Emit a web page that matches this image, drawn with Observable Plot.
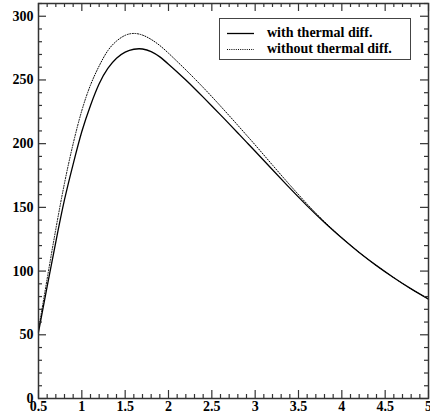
<!DOCTYPE html>
<html>
<head>
<meta charset="utf-8">
<script src="https://cdn.jsdelivr.net/npm/d3@7"></script>
<script src="https://cdn.jsdelivr.net/npm/@observablehq/plot@0.6"></script>
<style>
  html, body { margin: 0; padding: 0; background: white; }
  #wrap { position: relative; width: 430px; height: 419px; overflow: hidden; }
  #wrap svg text { font-family: "Liberation Serif", "Times New Roman", serif !important; font-weight: bold !important; font-size: 14px !important; }
  #legend { position: absolute; left: 219px; top: 18px; width: 192px; height: 42px;
    border: 1px solid #444; background: white; box-sizing: border-box;
    font-family: "Liberation Serif", serif; font-weight: bold; font-size: 14px; }
  #legend .row { position: absolute; left: 0; height: 16px; line-height: 16px; white-space: nowrap; }
  #legend svg { position: absolute; left: 7px; top: 0; }
  #legend span { position: absolute; left: 47px; top: 0; }
</style>
</head>
<body>
<div id="wrap">
  <div id="legend">
    <div class="row" style="top:6px"><svg width="28" height="16"><line x1="0" x2="27" y1="8.5" y2="8.5" stroke="black" stroke-width="1.3"/></svg><span>with thermal diff.</span></div>
    <div class="row" style="top:22px"><svg width="28" height="16"><line x1="0" x2="27" y1="8.5" y2="8.5" stroke="black" stroke-width="1" stroke-dasharray="1,1.2"/></svg><span>without thermal diff.</span></div>
  </div>
</div>
<script>
// with thermal diffusion (solid)
const xWith = [0.5,0.6,0.7,0.8,0.9,1.0,1.1,1.2,1.3,1.4,1.5,1.6,1.7,1.8,1.9,2.0,2.1,2.2,2.3,2.4,2.5,2.6,2.7,2.8,2.9,3.0,3.2,3.4,3.6,3.8,4.0,4.2,4.4,4.6,4.8,5.0];
const yWith = [52,88,123,156,184,209.5,230,247,259,267,271.8,274.1,274.3,272.3,268.1,262.4,256.3,249.9,243.3,236.5,229.6,222.6,215.5,208.4,201.2,194.0,179.5,165.1,151.2,138.1,125.9,114.6,104.3,94.8,86.0,78.0];
// without thermal diffusion (dotted)
const xWithout = [0.5,0.6,0.7,0.8,0.9,1.0,1.1,1.2,1.3,1.4,1.5,1.6,1.7,1.8,1.9,2.0,2.1,2.2,2.3,2.4,2.5,2.6,2.7,2.8,2.9,3.0,3.2,3.4,3.6,3.8,4.0,4.2,4.4,4.6,4.8,5.0];
const yWithout = [54,94,133,169,200,226,246,261,273,280.5,285,286.5,285.2,281.8,277,271,264.5,257.9,251.1,244.1,236.9,229.5,222.0,214.4,206.7,199.0,183.2,167.6,152.6,138.7,126.2,114.7,104.3,94.8,86.0,78.0];

const xMajor = [0.5,1,1.5,2,2.5,3,3.5,4,4.5,5];
const yMajor = [0,50,100,150,200,250,300];

const xMinor = d3.range(0.5, 5.0001, 0.1).map(v => +v.toFixed(2)).filter(v => !xMajor.includes(v));
const yMinor = d3.range(0, 310.001, 10).filter(v => !yMajor.includes(v));

const withData = xWith.map((x, i) => ({x, y: yWith[i]}));
const withoutData = xWithout.map((x, i) => ({x, y: yWithout[i]}));

const W = 430, H = 419, mL = 38, mR = 2, mT = 3, mB = 21;
const pw = W - mL - mR, ph = H - mT - mB;
const axisCol = "#333";
const font = "Liberation Serif";

const chart = Plot.plot({
  width: W, height: H,
  marginLeft: mL, marginRight: mR, marginTop: mT, marginBottom: mB,
  x: {domain: [0.5, 5], label: null},
  y: {domain: [0, 310], label: null},
  style: {fontFamily: font, fontSize: "14px", fontWeight: "bold", background: "white", color: "black", overflow: "visible"},
  marks: [
    Plot.line(withoutData, {x: "x", y: "y", curve: "natural", stroke: "black", strokeWidth: 1, strokeDasharray: "1,1.6"}),
    Plot.line(withData, {x: "x", y: "y", curve: "natural", stroke: "black", strokeWidth: 1.3}),
    // bottom ticks (inward)
    Plot.tickX(xMajor, {x: d => d, insetTop: ph - 8, stroke: axisCol, strokeWidth: 1.2}),
    Plot.tickX(xMinor, {x: d => d, insetTop: ph - 4, stroke: axisCol, strokeWidth: 1.2}),
    // top ticks
    Plot.tickX(xMajor, {x: d => d, insetBottom: ph - 8, stroke: axisCol, strokeWidth: 1.2}),
    Plot.tickX(xMinor, {x: d => d, insetBottom: ph - 4, stroke: axisCol, strokeWidth: 1.2}),
    // left ticks
    Plot.tickY(yMajor, {y: d => d, insetRight: pw - 8, stroke: axisCol, strokeWidth: 1.2}),
    Plot.tickY(yMinor, {y: d => d, insetRight: pw - 4, stroke: axisCol, strokeWidth: 1.2}),
    // right ticks
    Plot.tickY(yMajor, {y: d => d, insetLeft: pw - 8, stroke: axisCol, strokeWidth: 1.2}),
    Plot.tickY(yMinor, {y: d => d, insetLeft: pw - 4, stroke: axisCol, strokeWidth: 1.2}),
    Plot.frame({stroke: axisCol, strokeWidth: 1.5}),
    Plot.axisX(xMajor, {tickSize: 0, tickPadding: 3, label: null, tickFormat: d => String(d), fontSize: 14, fontWeight: "bold", fontFamily: font, fill: "black"}),
    Plot.axisY(yMajor, {tickSize: 0, tickPadding: 5, label: null, tickFormat: d => String(d), fontSize: 14, fontWeight: "bold", fontFamily: font, fill: "black"})
  ]
});
document.getElementById("wrap").prepend(chart);
</script>
</body>
</html>
